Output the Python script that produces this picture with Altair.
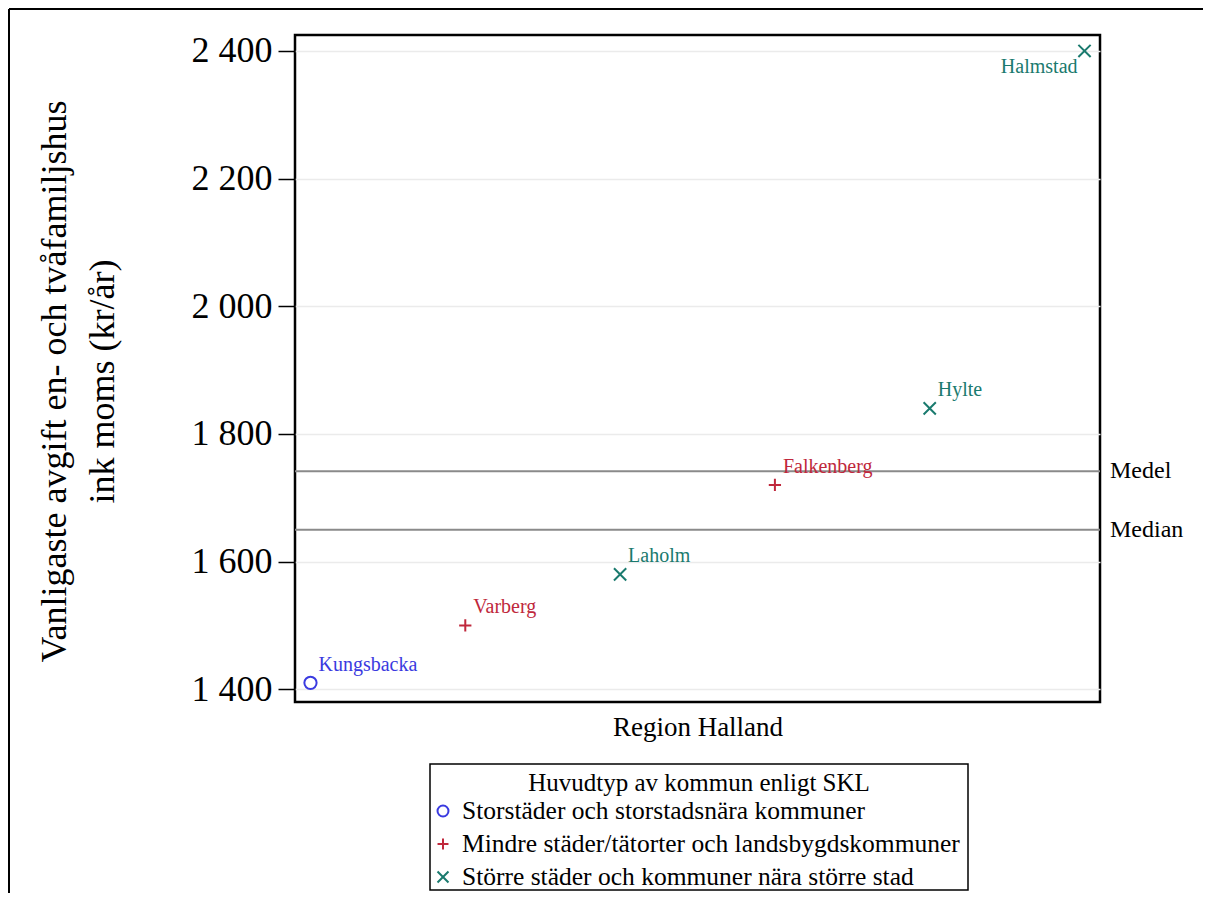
import altair as alt
import pandas as pd

kommuner = ["Kungsbacka", "Varberg", "Laholm", "Falkenberg", "Hylte", "Halmstad"]
avgift = [1410, 1500, 1580, 1720, 1840, 2400]
typer = [
    "Storstäder och storstadsnära kommuner",
    "Mindre städer/tätorter och landsbygdskommuner",
    "Större städer och kommuner nära större stad",
    "Mindre städer/tätorter och landsbygdskommuner",
    "Större städer och kommuner nära större stad",
    "Större städer och kommuner nära större stad",
]
typ_order = [
    "Storstäder och storstadsnära kommuner",
    "Mindre städer/tätorter och landsbygdskommuner",
    "Större städer och kommuner nära större stad",
]
typ_colors = ["#3a3ae0", "#c0283c", "#1a7a6e"]
typ_shapes = ["circle", "M0,-1L0,1M-1,0L1,0", "M-1,-1L1,1M-1,1L1,-1"]
y_ticks = [1400, 1600, 1800, 2000, 2200, 2400]
legend_title_text = ["Huvudtyp av kommun enligt SKL"]
ref_line_labels = ["Medel", "Median"]

df = pd.DataFrame({"kommun": kommuner, "avgift": avgift, "typ": typer})
df["rank"] = df["avgift"].rank(method="first")
legend_df = pd.DataFrame({"typ": typ_order})
title_df = pd.DataFrame({"t": legend_title_text})

W, H = 805, 667
FONT = "Liberation Serif"

base = alt.Chart(df)

x_enc = alt.X("rank:Q", scale=alt.Scale(domain=[0.9, 6.1], nice=False, zero=False),
              axis=alt.Axis(title="Region Halland", labels=False, ticks=False, grid=False,
                            domain=False, titleFontSize=27, titleFont=FONT,
                            titleFontWeight="normal", titlePadding=12, titleColor="black"))
y_enc = alt.Y("avgift:Q", scale=alt.Scale(domain=[1380, 2425], nice=False, zero=False),
              axis=alt.Axis(title=["Vanligaste avgift en- och tvåfamiljshus", "ink moms (kr/år)"],
                            values=y_ticks, labelExpr="replace(format(datum.value, ','), ',', ' ')",
                            labelFontSize=36, labelFont=FONT, labelColor="black", labelPadding=6,
                            tickSize=17, tickColor="black", tickWidth=1.5,
                            grid=True, gridColor="#ebebeb", gridWidth=1.5,
                            domain=False, titleFontSize=36, titleFont=FONT,
                            titleFontWeight="normal", titleLineHeight=48, titlePadding=70,
                            titleColor="black", titleY=346))

color_scale = alt.Scale(domain=typ_order, range=typ_colors)
shape_scale = alt.Scale(domain=typ_order, range=typ_shapes)

points = base.mark_point(filled=False, size=150, strokeWidth=2, opacity=1).encode(
    x=x_enc, y=y_enc,
    stroke=alt.Stroke("typ:N", scale=color_scale, legend=None),
    shape=alt.Shape("typ:N", scale=shape_scale, legend=None),
)

labels_main = base.transform_joinaggregate(maxv="max(avgift)").transform_filter(
    "datum.avgift < datum.maxv").mark_text(align="left", baseline="alphabetic", dx=8, dy=-12,
                                           fontSize=20, font=FONT).encode(
    x="rank:Q", y="avgift:Q", text="kommun:N",
    color=alt.Color("typ:N", scale=color_scale, legend=None))

labels_top = base.transform_joinaggregate(maxv="max(avgift)").transform_filter(
    "datum.avgift == datum.maxv").mark_text(align="right", baseline="alphabetic", dx=-7, dy=22,
                                            fontSize=20, font=FONT).encode(
    x="rank:Q", y="avgift:Q", text="kommun:N",
    color=alt.Color("typ:N", scale=color_scale, legend=None))

mean_rule = base.transform_aggregate(medelv="mean(avgift)").mark_rule(
    color="#8a8a8a", strokeWidth=2).encode(y="medelv:Q")
median_rule = base.transform_aggregate(medianv="median(avgift)").mark_rule(
    color="#8a8a8a", strokeWidth=2).encode(y="medianv:Q")
mean_text = base.transform_aggregate(medelv="mean(avgift)").transform_calculate(
    t1=f"'{ref_line_labels[0]}'").mark_text(
    align="left", baseline="middle", fontSize=24, font=FONT, color="black").encode(
    y="medelv:Q", x=alt.value(W + 10), text="t1:N")
median_text = base.transform_aggregate(medianv="median(avgift)").transform_calculate(
    t2=f"'{ref_line_labels[1]}'").mark_text(
    align="left", baseline="middle", fontSize=24, font=FONT, color="black").encode(
    y="medianv:Q", x=alt.value(W + 10), text="t2:N")

frame_data = alt.Chart(pd.DataFrame({"a": [0]}))
frame_top = frame_data.mark_rule(color="black", strokeWidth=2).encode(
    x=alt.value(-286), x2=alt.value(908), y=alt.value(-26))
frame_left = frame_data.mark_rule(color="black", strokeWidth=2).encode(
    x=alt.value(-286), y=alt.value(-26), y2=alt.value(858))

main = alt.layer(
    frame_top, frame_left, mean_rule, median_rule, mean_text, median_text,
    points, labels_main, labels_top
)

# legend (drawn as its own small layer, Stata-style box)
leg_y = alt.Y("typ:N", scale=alt.Scale(domain=typ_order, type="point", range=[776, 842],
                                       padding=0), axis=None)
legend_box = frame_data.mark_rect(fill="white", stroke="black", strokeWidth=1.5).encode(
    x=alt.value(135), x2=alt.value(673), y=alt.value(729), y2=alt.value(855))
legend_title = alt.Chart(title_df).mark_text(
    align="center", baseline="middle", fontSize=25, font=FONT, color="black").encode(
    x=alt.value(404), y=alt.value(748), text="t:N")
legend_symbols = alt.Chart(legend_df).mark_point(filled=False, size=120, strokeWidth=2,
                                                 opacity=1).encode(
    x=alt.value(148), y=leg_y,
    stroke=alt.Stroke("typ:N", scale=color_scale, legend=None),
    shape=alt.Shape("typ:N", scale=shape_scale, legend=None))
legend_labels = alt.Chart(legend_df).mark_text(
    align="left", baseline="middle", fontSize=25.5, font=FONT, color="black").encode(
    x=alt.value(167), y=leg_y, text="typ:N")

legend_layer = alt.layer(legend_box, legend_title, legend_symbols, legend_labels)

chart = alt.layer(main, legend_layer).resolve_scale(y="independent").properties(
    width=W, height=H, padding=0
).configure(background="white").configure_view(stroke="black", strokeWidth=2.5)

chart.save("out.html", embed_options={"renderer": "svg", "actions": False})
